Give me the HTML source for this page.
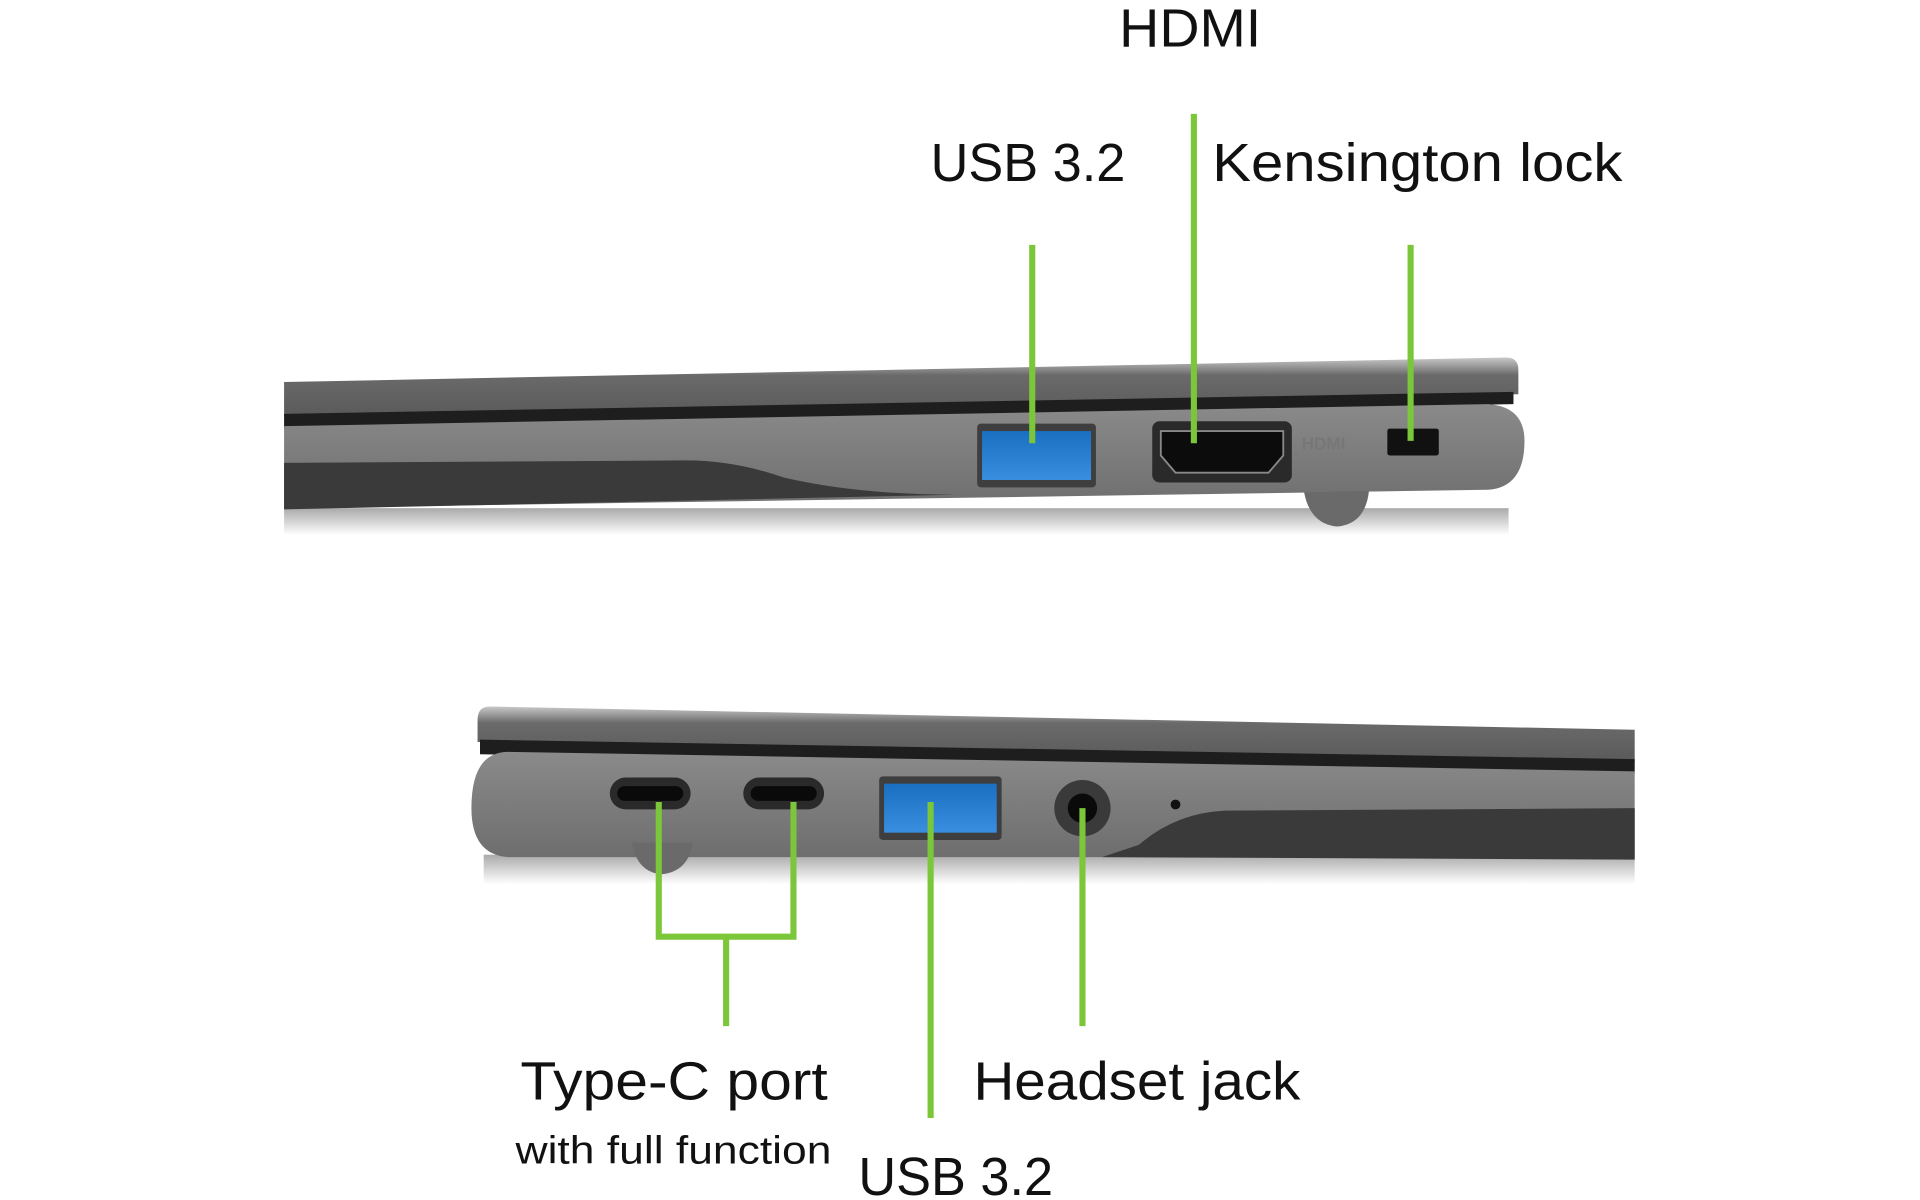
<!DOCTYPE html>
<html><head><meta charset="utf-8"><style>html,body{margin:0;padding:0;background:#fff;width:1920px;height:1200px;overflow:hidden}svg{display:block}</style></head>
<body>
<svg width="1920" height="1200" viewBox="0 0 1568 980" xmlns="http://www.w3.org/2000/svg" font-family="Liberation Sans, sans-serif" fill="#111">
<defs>
<linearGradient id="lid" x1="0" y1="0" x2="0" y2="1"><stop offset="0" stop-color="#c8c8c8"/><stop offset="0.3" stop-color="#6a6a6a"/><stop offset="1" stop-color="#5a5a5a"/></linearGradient>
<linearGradient id="base" x1="0" y1="0" x2="0" y2="1"><stop offset="0" stop-color="#8a8a8a"/><stop offset="1" stop-color="#6e6e6e"/></linearGradient>
<linearGradient id="sh" x1="0" y1="0" x2="0" y2="1"><stop offset="0" stop-color="#aaa"/><stop offset="1" stop-color="#fff"/></linearGradient>
<linearGradient id="usb" x1="0" y1="0" x2="0" y2="1"><stop offset="0" stop-color="#1a6fc0"/><stop offset="1" stop-color="#3a8ee0"/></linearGradient>
</defs>
<!-- top laptop -->
<rect x="232" y="415" width="1000" height="22" fill="url(#sh)"/>
<path d="M232 312 L1230 292 Q1240 292 1240 302 L1240 322 L232 340 Z" fill="url(#lid)"/>
<path d="M232 338 L1236 320 L1236 330 L232 350 Z" fill="#1e1e1e"/>
<path d="M232 348 L1215 330 Q1245 332 1245 360 Q1245 398 1215 400 L232 415 Z" fill="url(#base)"/>
<path d="M232 378 L560 376 Q600 376 640 390 Q700 404 780 404 L232 416 Z" fill="#3a3a3a"/>
<path d="M1065 402 L1118 401 Q1115 428 1092 430 Q1070 428 1065 402 Z" fill="#6a6a6a"/>
<rect x="798" y="346" width="97" height="52" rx="3" fill="#3e3e3e"/>
<rect x="802" y="352" width="89" height="40" fill="url(#usb)"/>
<rect x="941" y="344" width="114" height="50" rx="6" fill="#2a2a2a"/>
<path d="M948 352 L1048 352 L1048 372 L1036 386 L960 386 L948 372 Z" fill="#0c0c0c" stroke="#888" stroke-width="1.5"/>
<rect x="1133" y="350" width="42" height="22" rx="2" fill="#111"/>
<text x="1063" y="367" font-size="14" fill="#777" font-weight="bold">HDMI</text>
<!-- bottom laptop -->
<rect x="395" y="698" width="940" height="24" fill="url(#sh)"/>
<path d="M400 577 L1335 596 L1335 622 L390 606 L390 588 Q390 577 400 577 Z" fill="url(#lid)"/>
<path d="M392 604 L1335 620 L1335 632 L392 616 Z" fill="#1e1e1e"/>
<path d="M415 614 L1335 630 L1335 700 L415 700 Q385 698 385 660 Q385 614 415 614 Z" fill="url(#base)"/>
<path d="M1335 660 L1000 662 Q960 664 930 690 L900 700 L1335 702 Z" fill="#3a3a3a"/>
<path d="M516 688 L566 688 Q562 712 540 714 Q520 712 516 688 Z" fill="#6a6a6a"/>
<rect x="498" y="635" width="66" height="26" rx="13" fill="#2a2a2a"/><rect x="504" y="642" width="54" height="12" rx="6" fill="#0a0a0a"/>
<rect x="607" y="635" width="66" height="26" rx="13" fill="#2a2a2a"/><rect x="613" y="642" width="54" height="12" rx="6" fill="#0a0a0a"/>
<rect x="718" y="634" width="100" height="52" rx="3" fill="#3e3e3e"/>
<rect x="722" y="640" width="92" height="40" fill="url(#usb)"/>
<circle cx="884" cy="660" r="23" fill="#3a3a3a"/><circle cx="884" cy="660" r="12" fill="#0a0a0a"/>
<circle cx="960" cy="657" r="4" fill="#111"/>
<!-- green lines -->
<g stroke="#7cc63a" stroke-width="5" fill="none">
<line x1="843" y1="200" x2="843" y2="362"/>
<line x1="975" y1="93" x2="975" y2="362"/>
<line x1="1152" y1="200" x2="1152" y2="360"/>
<path d="M538 655 L538 765 L648 765 L648 655"/>
<line x1="593" y1="765" x2="593" y2="838"/>
<line x1="760" y1="655" x2="760" y2="913"/>
<line x1="884" y1="660" x2="884" y2="838"/>
</g>
<!-- labels -->
<g font-size="44">
<text x="914" y="38" textLength="116" lengthAdjust="spacingAndGlyphs">HDMI</text>
<text x="760" y="148" textLength="159" lengthAdjust="spacingAndGlyphs">USB 3.2</text>
<text x="990" y="148" textLength="335" lengthAdjust="spacingAndGlyphs">Kensington lock</text>
<text x="425" y="898" textLength="251" lengthAdjust="spacingAndGlyphs">Type-C port</text>
<text x="795" y="898" textLength="267" lengthAdjust="spacingAndGlyphs">Headset jack</text>
<text x="701" y="976" textLength="159" lengthAdjust="spacingAndGlyphs">USB 3.2</text>
</g>
<text x="421" y="950" font-size="32" textLength="258" lengthAdjust="spacingAndGlyphs">with full function</text>
</svg>
</body></html>
